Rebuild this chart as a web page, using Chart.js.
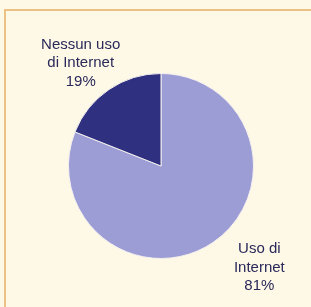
<!DOCTYPE html>
<html>
<head>
<meta charset="utf-8">
<script src="https://cdn.jsdelivr.net/npm/chart.js@4/dist/chart.umd.min.js"></script>
<style>
  html, body { margin: 0; padding: 0; background: #fef8e6; overflow: hidden; }
  #wrap { position: relative; width: 311px; height: 307px; overflow: hidden; }
  #frame {
    position: absolute; left: 4px; top: 9px; width: 340px; height: 340px;
    border-top: 2px solid #ebc184; border-left: 2px solid #ebc184;
  }
  canvas { position: absolute; left: 0; top: 0; }
</style>
</head>
<body>
<div id="wrap">
  <div id="frame"></div>
  <canvas id="chart" width="311" height="307"></canvas>
</div>
<script>
// dati
const labels = [['Uso di', 'Internet', '81%'], ['Nessun uso', 'di Internet', '19%']];
const values = [81, 19];
const colors = ['#9d9dd6', '#2f3080'];

// etichette accanto alle fette (angolo in gradi, distanza in raggi)
const labelPos = [
  { angle: 46, dist: 1.53 },
  { angle: -128, dist: 1.41 },
];

const sliceLabels = {
  id: 'sliceLabels',
  afterDatasetsDraw(chart) {
    const ctx = chart.ctx;
    const arcs = chart.getDatasetMeta(0).data;
    ctx.save();
    ctx.font = '15px "Liberation Sans", Arial, sans-serif';
    ctx.fillStyle = '#29295a';
    ctx.textAlign = 'center';
    ctx.textBaseline = 'middle';
    arcs.forEach((arc, i) => {
      const a = labelPos[i].angle * Math.PI / 180;
      const r = arc.outerRadius * labelPos[i].dist;
      const x = arc.x + Math.cos(a) * r;
      const y = arc.y + Math.sin(a) * r;
      const lines = labels[i];
      lines.forEach((t, j) => {
        ctx.fillText(t, x, y + (j - (lines.length - 1) / 2) * 18.5);
      });
    });
    ctx.restore();
  }
};

new Chart(document.getElementById('chart'), {
  type: 'pie',
  data: {
    labels: labels.map(l => l.join(' ')),
    datasets: [{
      data: values,
      backgroundColor: colors,
      borderColor: '#f4f0ee',
      borderWidth: 1,
    }],
  },
  options: {
    responsive: false,
    animation: false,
    layout: { padding: { top: 73, bottom: 48, left: 68, right: 57 } },
    plugins: {
      legend: { display: false },
      tooltip: { enabled: false },
    },
  },
  plugins: [sliceLabels],
});
</script>
</body>
</html>
